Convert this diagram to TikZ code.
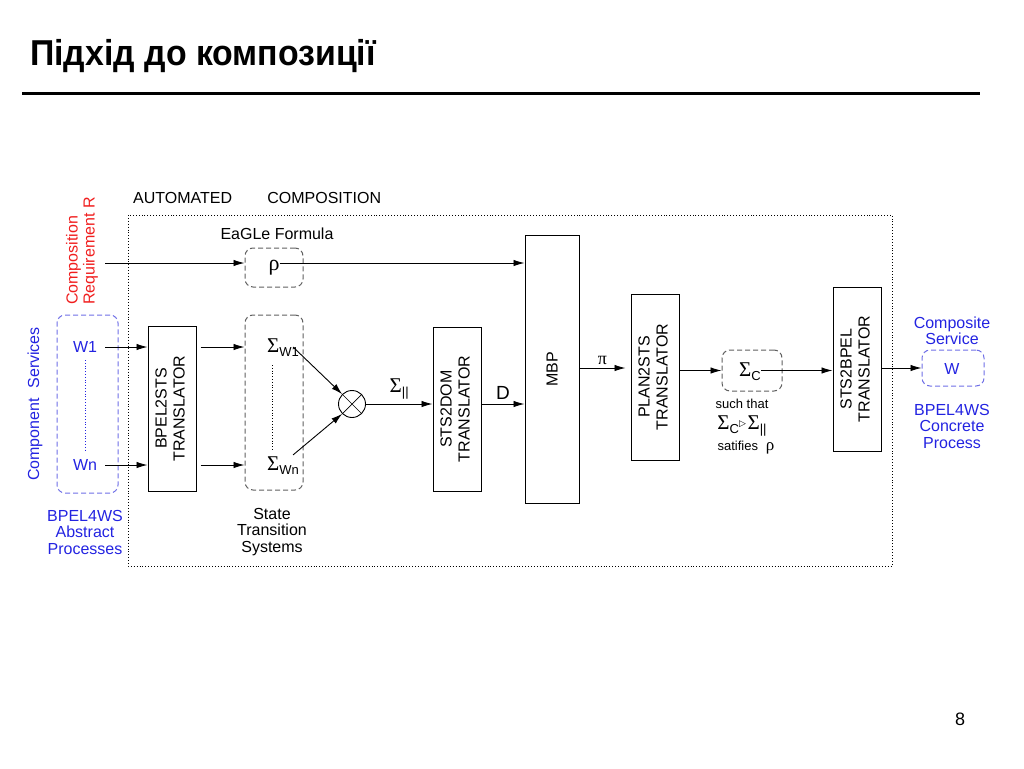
\documentclass[tikz,border=0pt]{standalone}
\usepackage{fontspec}
\setmainfont{Liberation Sans}
\newfontfamily\grk{Liberation Serif}
\newfontfamily\djv{DejaVu Sans}
\usetikzlibrary{arrows.meta}
\definecolor{redT}{RGB}{240,30,30}
\definecolor{blueT}{RGB}{35,35,225}
\definecolor{blueD}{RGB}{110,110,230}
\definecolor{grayD}{RGB}{95,95,95}
\newcommand{\Sg}{{\grk\fontsize{21}{21}\selectfont Σ}}
\newcommand{\sbs}[1]{\raisebox{-4pt}{\fontsize{13}{13}\selectfont #1}}
\begin{document}
\begin{tikzpicture}[x=1pt,y=-1pt,
  txt/.style={font=\fontsize{16}{17}\selectfont, inner sep=0pt},
  tbox/.style={draw, line width=1pt, inner sep=0pt, font=\fontsize{16}{18}\selectfont},
  dbox/.style={draw=grayD, dashed, dash pattern=on 5pt off 3pt, line width=1pt, rounded corners=8pt, inner sep=0pt},
  bbox/.style={draw=blueD, dashed, dash pattern=on 5pt off 3pt, line width=1pt, rounded corners=8pt, inner sep=0pt},
  arr/.style={-{Latex[length=11pt,width=6.5pt]}, line width=0.9pt},
  ln/.style={line width=0.9pt}]
\useasboundingbox (0,0) rectangle (1024,768);
% title
\node[anchor=base west, inner sep=0pt, font=\fontsize{36}{36}\selectfont\bfseries] (title) at (30,66) {\scalebox{0.94}[1]{Підхід до композиції}};
\draw[line width=3pt] (22,93) -- (980,93);
\node[anchor=base, inner sep=0pt, font=\fontsize{18}{18}\selectfont] (pnum) at (960,725) {8};

% automated composition frame
\node[txt, anchor=base west] (auto) at (133,203) {AUTOMATED\hspace{2.2em}COMPOSITION};
\draw[dotted, line width=0.9pt] (128,215) rectangle (892,566);

% requirement
\node[txt, text=redT, rotate=90, anchor=west, align=left] (req) at (82,305) {Composition\\Requirement R};
\node[txt, anchor=base] (eagle) at (277,239) {EaGLe Formula};
\node[dbox, minimum width=58pt, minimum height=39pt] (rho) at (274,267.5) {};
\node[inner sep=0pt, font=\grk\fontsize{22}{22}\selectfont] (rhot) at (274,268) {ρ};
\coordinate (rstart) at (105,263);

% component services
\node[txt, text=blueT, rotate=90] (cs) at (35,404) {Component\hspace{0.6em}Services};
\node[bbox, minimum width=61pt, minimum height=178pt] (wbox) at (87.5,404) {};
\node[txt, text=blueT] (w1) at (85,347) {W1};
\node[txt, text=blueT] (wn) at (85,465) {Wn};
\draw[dotted, line width=0.8pt, blueT] (85,360) -- (85,452);
\node[txt, text=blueT, align=center, font=\fontsize{16}{16.5}\selectfont] (bpa) at (85,532) {BPEL4WS\\Abstract\\Processes};

% BPEL2STS
\node[tbox, minimum width=48pt, minimum height=165pt] (b2s) at (172,408.5) {\rotatebox{90}{\begin{tabular}{@{}c@{}}BPEL2STS\\TRANSLATOR\end{tabular}}};

% STS box
\node[dbox, minimum width=58pt, minimum height=175pt] (stsbox) at (274,402.5) {};
\node[inner sep=0pt] (sw1) at (283,348) {\Sg\sbs{W1}};
\node[inner sep=0pt] (swn) at (283,466) {\Sg\sbs{Wn}};
\draw[dotted, line width=0.8pt] (272,365) -- (272,450);
\node[txt, align=center, font=\fontsize{16}{16.5}\selectfont] (stl) at (272,532) {State\\Transition\\Systems};

% otimes
\node[draw, circle, line width=0.9pt, minimum size=27pt, inner sep=0pt] (ot) at (352,404) {};
\draw[line width=0.7pt] (ot.north west) -- (ot.south east) (ot.north east) -- (ot.south west);

% STS2DOM
\node[tbox, minimum width=48pt, minimum height=164pt] (s2d) at (457,409) {\rotatebox{90}{\begin{tabular}{@{}c@{}}STS2DOM\\TRANSLATOR\end{tabular}}};
% MBP
\node[tbox, minimum width=54pt, minimum height=268pt] (mbp) at (552,369) {\rotatebox{90}{MBP}};
% PLAN2STS
\node[tbox, minimum width=48pt, minimum height=166pt] (p2s) at (655,377) {\rotatebox{90}{\begin{tabular}{@{}c@{}}PLAN2STS\\TRANSLATOR\end{tabular}}};
% Sigma C
\node[dbox, minimum width=60pt, minimum height=41pt] (scbox) at (752,370.5) {};
\node[inner sep=0pt] (sc) at (750,372) {\Sg\sbs{C}};
\node[inner sep=0pt, font=\fontsize{13}{13}\selectfont] (such) at (742,404) {such that};
\node[inner sep=0pt] (rel) at (742,426) {\Sg\sbs{C}\raisebox{3pt}{\djv\fontsize{9}{9}\selectfont ▷}\,\Sg\sbs{||}};
\node[inner sep=0pt, font=\fontsize{13}{13}\selectfont] (sat) at (746,448) {satifies\hspace{0.6em}{\grk\fontsize{17}{17}\selectfont ρ}};
% STS2BPEL
\node[tbox, minimum width=48pt, minimum height=164pt] (s2b) at (857,369) {\rotatebox{90}{\begin{tabular}{@{}c@{}}STS2BPEL\\TRANSLATOR\end{tabular}}};
% W output
\node[bbox, minimum width=62pt, minimum height=36pt] (wout) at (953,368) {};
\node[txt, text=blueT] (wt) at (952,369) {W};
\node[txt, text=blueT, align=center, font=\fontsize{16}{16.5}\selectfont] (cserv) at (952,331) {Composite\\Service};
\node[txt, text=blueT, align=center, font=\fontsize{16}{16.5}\selectfont] (bcp) at (952,426) {BPEL4WS\\Concrete\\Process};

% connectors
\draw[arr] (rstart) -- (rho.west |- rstart);
\draw[arr] (rhot.east |- rstart) -- (mbp.west |- rstart);
\draw[arr] (w1.east) ++(8,0) -- (b2s.west |- w1);
\draw[arr] (wn.east) ++(8,0) -- (b2s.west |- wn);
\draw[arr] ([xshift=4pt]b2s.east |- w1) -- (stsbox.west |- w1);
\draw[arr] ([xshift=4pt]b2s.east |- wn) -- (stsbox.west |- wn);
\draw[arr] ([xshift=-6pt,yshift=1pt]sw1.east) -- (ot.north west);
\draw[arr] ([xshift=-6pt,yshift=2pt]swn.north east) -- (ot.south west);
\draw[arr] (ot.east) -- node[above=4pt, inner sep=0pt] (spar) {\Sg\sbs{||}} (s2d.west |- ot.east);
\draw[arr] (s2d.east |- ot.east) -- node[above=4pt, inner sep=0pt, font=\fontsize{19}{19}\selectfont] (dl) {D} (mbp.west |- ot.east);
\coordinate (piy) at (0,368);
\draw[arr] (mbp.east |- piy) -- node[above=3pt, inner sep=0pt, font=\grk\fontsize{18}{18}\selectfont] (pil) {π} ([xshift=-5pt]p2s.west |- piy);
\draw[arr] (p2s.east |- scbox) -- (scbox.west);
\draw[arr] (sc.east |- scbox) -- (s2b.west |- scbox);
\draw[arr] (s2b.east |- wout) -- (wout.west);
\end{tikzpicture}
\end{document}
